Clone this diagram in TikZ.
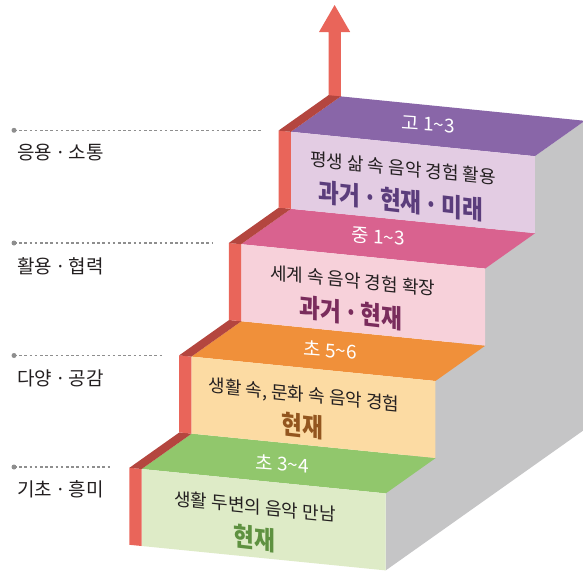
\documentclass[tikz,border=0pt]{standalone}
\usepackage{fontspec}
\setmainfont{Noto Sans CJK KR}
\definecolor{stepred}{HTML}{E9655A}
\definecolor{stepdark}{HTML}{B4463F}
\definecolor{sidegray}{HTML}{C5C5C6}
\definecolor{toppurple}{HTML}{8966A8}
\definecolor{frontpurple}{HTML}{E3CCE3}
\definecolor{toppink}{HTML}{D9628F}
\definecolor{frontpink}{HTML}{F7D1DA}
\definecolor{toporange}{HTML}{F0903A}
\definecolor{frontorange}{HTML}{FCDBA3}
\definecolor{topgreen}{HTML}{91C76C}
\definecolor{frontgreen}{HTML}{DEEBC7}
\definecolor{purpletxt}{HTML}{5B3D7C}
\definecolor{pinktxt}{HTML}{7A2C5C}
\definecolor{browntxt}{HTML}{93561F}
\definecolor{greentxt}{HTML}{5E9140}
\definecolor{darktxt}{HTML}{231F20}
\definecolor{leadgray}{HTML}{8E8E8E}
\newcommand\mdt{\makebox[0.42em][c]{·}}
\tikzset{
  facetext/.style={text=darktxt, inner sep=0pt, font=\fontsize{18}{20}\selectfont, yslant=-0.1},
  boldtext/.style={inner sep=0pt, font=\fontsize{26}{28}\selectfont\bfseries, xscale=0.87, yslant=-0.1},
  toptext/.style={text=white, inner sep=0pt, font=\fontsize{19}{21}\selectfont, yslant=-0.07},
  lbl/.style={anchor=west, inner sep=0pt, text=darktxt, font=\fontsize{19}{21}\selectfont},
  leader/.style={draw=leadgray, line width=1.1pt, dash pattern=on 2.6pt off 2.6pt},
  leaddot/.style={fill=leadgray, circle, inner sep=0pt, minimum size=5pt},
}
\begin{document}
\begin{tikzpicture}[x=1pt, y=-1pt]
\useasboundingbox (0,0) rectangle (583,571);
% side of the staircase
\fill[sidegray] (385.7,570.4) -- (385.7,493.4) -- (534.8,156.2) -- (584.8,120.8) -- (584.8,429.4) -- cycle;
% arrow
\fill[stepred] (328.5,97) -- (328.5,32) -- (319,32) -- (334.6,5) -- (350.2,32) -- (340.8,32) -- (340.8,97) -- cycle;
% steps
\foreach \k/\tc/\fc in {0/topgreen/frontgreen, 1/toporange/frontorange, 2/toppink/frontpink, 3/toppurple/frontpurple}{
  \pgfmathsetmacro{\xa}{141.7+49.7*\k}
  \pgfmathsetmacro{\ya}{469-112.4*\k}
  \fill[\tc] (\xa,\ya) -- ++(244,24.4) -- ++(50,-35.4) -- ++(-244,-24.4) -- cycle;
  \fill[\fc] (\xa,\ya) -- ++(244,24.4) -- ++(0,77) -- ++(-244,-24.4) -- cycle;
  \fill[stepred] (\xa-12.3,\ya-1.2) -- (\xa,\ya) -- (\xa,\ya+77) -- (\xa-12.3,\ya+75.8) -- cycle;
  \fill[stepdark] (\xa-12.3,\ya-1.2) -- (\xa,\ya) -- (\xa+50,\ya-35.4) -- (\xa+37.7,\ya-36.6) -- cycle;
}
% step texts
\node[toptext] (h4) at (428,124) {고 1\textasciitilde 3};
\node[facetext] (a4) at (403,168) {평생 삶 속 음악 경험 활용};
\node[boldtext, text=purpletxt] (b4) at (401,201) {과거 \mdt{} 현재 \mdt{} 미래};
\node[toptext] (h3) at (378,237) {중 1\textasciitilde 3};
\node[facetext] (a3) at (352.6,280.5) {세계 속 음악 경험 확장};
\node[boldtext, text=pinktxt] (b3) at (351,313) {과거 \mdt{} 현재};
\node[toptext] (h2) at (330,350) {초 5\textasciitilde 6};
\node[facetext] (a2) at (304,395.5) {생활 속, 문화 속 음악 경험};
\node[boldtext, text=browntxt] (b2) at (302.5,426) {현재};
\node[toptext] (h1) at (282,463.5) {초 3\textasciitilde 4};
\node[facetext] (a1) at (255,506.5) {생활 두변의 음악 만남};
\node[boldtext, text=greentxt] (b1) at (254,538.5) {현재};
% left leaders and labels
\node[leaddot] (d4) at (14,130.3) {};
\coordinate (e4) at (263.3,130.3);
\draw[leader] (d4.center) -- (e4);
\node[lbl] (l4) at (17.3,153) {응용 \mdt{} 소통};
\node[leaddot] (d3) at (14,243) {};
\coordinate (e3) at (211.7,243);
\draw[leader] (d3.center) -- (e3);
\node[lbl] (l3) at (17.3,266.4) {활용 \mdt{} 협력};
\node[leaddot] (d2) at (14,355.5) {};
\coordinate (e2) at (161.7,355.5);
\draw[leader] (d2.center) -- (e2);
\node[lbl] (l2) at (17.3,378) {다양 \mdt{} 공감};
\node[leaddot] (d1) at (14,467) {};
\coordinate (e1) at (111.7,467);
\draw[leader] (d1.center) -- (e1);
\node[lbl] (l1) at (17.3,489) {기초 \mdt{} 흥미};
\end{tikzpicture}
\end{document}
